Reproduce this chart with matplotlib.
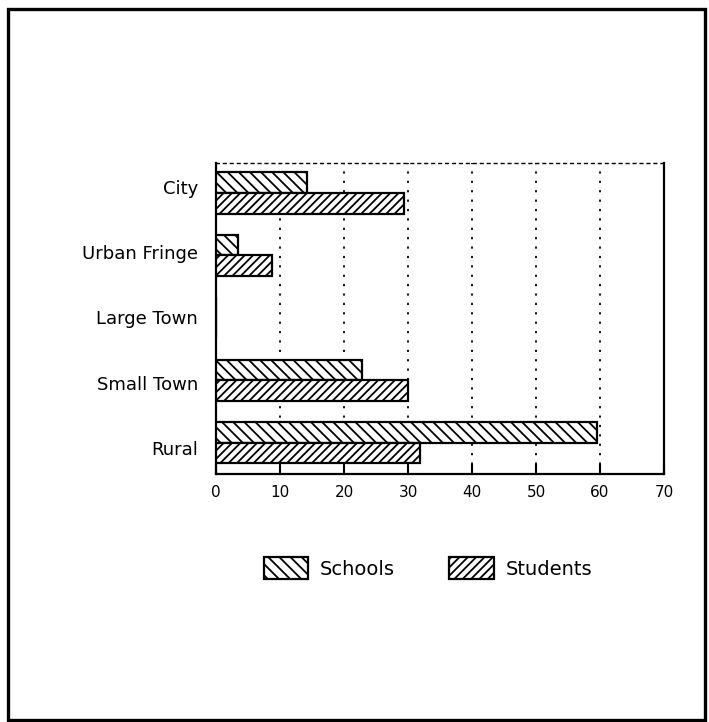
import numpy as np
import matplotlib.pyplot as plt
from matplotlib.patches import Rectangle

plt.rcParams['hatch.linewidth'] = 1.3

categories = ['City', 'Urban Fringe', 'Large Town', 'Small Town', 'Rural']
schools = [14.2, 3.4, 0.0, 22.8, 59.5]
students = [29.4, 8.7, 0.0, 30.0, 31.9]
xticks = [0, 10, 20, 30, 40, 50, 60, 70]

fig = plt.figure(figsize=(7.09, 7.22), dpi=100)
ax = fig.add_axes([216 / 709, 1 - 474 / 722, 448 / 709, 311 / 722])

# page border from the scanned document
fig.patches.append(Rectangle((0.011, 0.003), 0.983, 0.985, transform=fig.transFigure,
                             fill=False, lw=2.4, ec='black'))

y = np.arange(len(categories))[::-1]
h = 0.33
ax.barh(y + h / 2, schools, height=h, color='white', edgecolor='black',
        hatch='\\\\\\', lw=1.6, label='Schools', zorder=3)
ax.barh(y - h / 2, students, height=h, color='white', edgecolor='black',
        hatch='////', lw=1.6, label='Students', zorder=3)

ax.set_xlim(0, 70)
ax.set_ylim(-0.5, 4.48)
ax.set_xticks(xticks)
ax.set_xticklabels([str(t) for t in xticks], fontsize=11)
# category labels are spread a touch wider than the bar groups in the original
ax.set_yticks(y * 1.045 - 0.08)
ax.set_yticklabels(categories, fontsize=13)
ax.tick_params(axis='y', length=0, pad=13)
ax.tick_params(axis='x', direction='in', length=7, width=1.5, pad=8)

ax.grid(axis='x', linestyle=(0, (1.2, 4)), color='black', lw=1.3, zorder=1)
for s in ['left', 'bottom', 'right']:
    ax.spines[s].set_linewidth(1.6)
ax.spines['top'].set_linestyle((0, (2, 3)))
ax.spines['top'].set_linewidth(1.0)

leg = fig.legend(loc='center', bbox_to_anchor=(428 / 709, 1 - 568 / 722), ncol=2,
                 frameon=False, fontsize=14, handlelength=2.3, handleheight=1.3,
                 columnspacing=2.8, handletextpad=0.6)

fig.savefig('out.png', dpi=100)
